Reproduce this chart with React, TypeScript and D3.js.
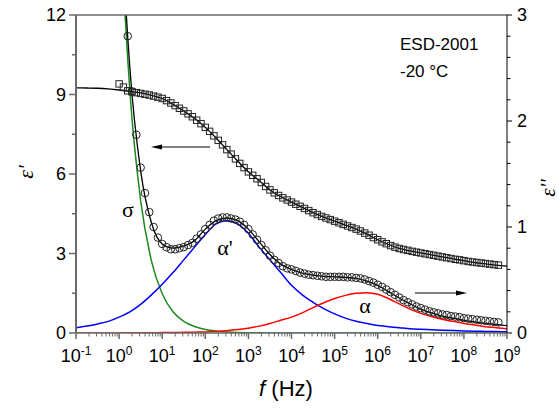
import React from 'react';
import * as d3 from 'd3';

// measured points: log10(f/Hz)
const dataExp = [
  0.0, 0.1, 0.2, 0.3, 0.4, 0.5, 0.6, 0.7, 0.8, 0.9,
  1.0, 1.1, 1.2, 1.3, 1.4, 1.5, 1.6, 1.7, 1.8, 1.9,
  2.0, 2.1, 2.2, 2.3, 2.4, 2.5, 2.6, 2.7, 2.8, 2.9,
  3.0, 3.1, 3.2, 3.3, 3.4, 3.5, 3.6, 3.7, 3.8, 3.9,
  4.0, 4.1, 4.2, 4.3, 4.4, 4.5, 4.6, 4.7, 4.8, 4.9,
  5.0, 5.1, 5.2, 5.3, 5.4, 5.5, 5.6, 5.7, 5.8, 5.9,
  6.0, 6.1, 6.2, 6.3, 6.4, 6.5, 6.6, 6.7, 6.8, 6.9,
  7.0, 7.1, 7.2, 7.3, 7.4, 7.5, 7.6, 7.7, 7.8, 7.9,
  8.0, 8.1, 8.2, 8.3, 8.4, 8.5, 8.6, 8.7, 8.8,
];

// eps' (squares, left axis)
const epsReal = [
  9.40, 9.28, 9.14, 9.10, 9.07, 9.04, 9.01, 8.98, 8.94, 8.90,
  8.85, 8.77, 8.68, 8.58, 8.48, 8.38, 8.27, 8.16, 8.03, 7.90,
  7.76, 7.61, 7.44, 7.27, 7.10, 6.92, 6.75, 6.57, 6.40, 6.24,
  6.08, 5.95, 5.82, 5.68, 5.53, 5.40, 5.29, 5.19, 5.10, 5.02,
  4.94, 4.86, 4.78, 4.70, 4.62, 4.54, 4.47, 4.40, 4.34, 4.28,
  4.22, 4.16, 4.10, 4.04, 3.98, 3.92, 3.85, 3.77, 3.69, 3.60,
  3.52, 3.44, 3.37, 3.30, 3.24, 3.19, 3.15, 3.12, 3.08, 3.05,
  3.02, 2.99, 2.96, 2.93, 2.90, 2.87, 2.84, 2.81, 2.78, 2.76,
  2.73, 2.70, 2.68, 2.66, 2.64, 2.62, 2.60, 2.58, 2.56,
];

// eps'' (circles, right axis)
const epsImag = [
  4.2, 3.4, 2.80, 2.28, 1.87, 1.56, 1.32, 1.14, 1.00, 0.90,
  0.84, 0.81, 0.79, 0.79, 0.80, 0.81, 0.83, 0.85, 0.89, 0.93,
  0.98, 1.02, 1.06, 1.08, 1.09, 1.09, 1.08, 1.07, 1.05, 1.02,
  0.98, 0.93, 0.88, 0.83, 0.78, 0.73, 0.69, 0.66, 0.63, 0.61,
  0.60, 0.585, 0.57, 0.56, 0.55, 0.545, 0.54, 0.535, 0.53, 0.53,
  0.53, 0.53, 0.53, 0.525, 0.525, 0.52, 0.515, 0.505, 0.49, 0.475,
  0.455, 0.435, 0.41, 0.385, 0.36, 0.335, 0.31, 0.29, 0.27, 0.25,
  0.235, 0.22, 0.205, 0.195, 0.185, 0.175, 0.17, 0.16, 0.155, 0.15,
  0.14, 0.135, 0.13, 0.125, 0.12, 0.115, 0.11, 0.105, 0.10,
];

// fitted curves: log10(f/Hz)
const fitExp = [
  -1, -0.75, -0.5, -0.25, 0, 0.25, 0.5, 0.75, 1, 1.25, 1.5, 1.75, 2, 2.25,
  2.5, 2.75, 3, 3.25, 3.5, 3.75, 4, 4.25, 4.5, 4.75, 5, 5.25, 5.5, 5.75,
  6, 6.25, 6.5, 6.75, 7, 7.25, 7.5, 7.75, 8, 8.25, 8.5, 8.75, 9,
];

const fitReal = [
  9.25, 9.245, 9.235, 9.21, 9.17, 9.12, 9.06, 8.97, 8.85, 8.63, 8.38, 8.10, 7.76, 7.36,
  6.92, 6.49, 6.08, 5.75, 5.40, 5.15, 4.94, 4.74, 4.54, 4.37, 4.22, 4.07, 3.92, 3.73,
  3.52, 3.34, 3.19, 3.10, 3.02, 2.95, 2.87, 2.80, 2.73, 2.66, 2.61, 2.56, 2.52,
];

const fitImag = [
  46.8, 25.6, 14.0, 7.7, 4.35, 2.50, 1.53, 1.04, 0.84, 0.80, 0.82, 0.87, 0.98, 1.06,
  1.085, 1.06, 0.98, 0.86, 0.74, 0.65, 0.60, 0.565, 0.545, 0.535, 0.53, 0.525, 0.515, 0.49,
  0.45, 0.39, 0.33, 0.275, 0.225, 0.19, 0.16, 0.14, 0.12, 0.105, 0.09, 0.08, 0.07,
];

const sigmaPart = [
  46.7, 25.5, 13.9, 7.6, 4.18, 2.28, 1.25, 0.68, 0.37, 0.20, 0.11, 0.061, 0.033, 0.018,
  0.010, 0.005, 0.003, 0.002, 0.001, 0.001, 0, 0, 0, 0, 0, 0, 0, 0,
  0, 0, 0, 0, 0, 0, 0, 0, 0, 0, 0, 0, 0,
];

const alphaPrimePart = [
  0.05, 0.065, 0.085, 0.11, 0.15, 0.20, 0.27, 0.36, 0.46, 0.57, 0.69, 0.81, 0.93, 1.03,
  1.06, 1.03, 0.94, 0.81, 0.69, 0.57, 0.45, 0.36, 0.29, 0.23, 0.18, 0.14, 0.11, 0.09,
  0.07, 0.06, 0.05, 0.04, 0.035, 0.031, 0.027, 0.023, 0.02, 0.017, 0.015, 0.013, 0.012,
];

const alphaPart = [
  0, 0, 0.001, 0.001, 0.001, 0.002, 0.002, 0.003, 0.004, 0.005, 0.006, 0.008, 0.01, 0.015,
  0.022, 0.032, 0.045, 0.065, 0.09, 0.12, 0.15, 0.19, 0.24, 0.285, 0.325, 0.355, 0.375, 0.38,
  0.365, 0.325, 0.275, 0.225, 0.185, 0.155, 0.13, 0.11, 0.09, 0.075, 0.06, 0.05, 0.04,
];

const decades = [-1, 0, 1, 2, 3, 4, 5, 6, 7, 8, 9];
const leftTicks = [0, 3, 6, 9, 12];
const leftMinor = [1.5, 4.5, 7.5, 10.5];
const rightTicks = [0, 1, 2, 3];
const rightMinor = [0.2, 0.4, 0.6, 0.8, 1.2, 1.4, 1.6, 1.8, 2.2, 2.4, 2.6, 2.8];

const X0 = 76, X1 = 507, Y0 = 15, Y1 = 333;
const x = d3.scaleLog().domain([1e-1, 1e9]).range([X0, X1]);
const yL = d3.scaleLinear().domain([0, 12]).range([Y1, Y0]);
const yR = d3.scaleLinear().domain([0, 3]).range([Y1, Y0]);

const sans = 'Arial, "Liberation Sans", sans-serif';
const serif = '"Liberation Serif", "Times New Roman", serif';

function lineFor(exps: number[], vals: number[], y: d3.ScaleLinear<number, number>) {
  const pts = exps.map((e, i) => [e, vals[i]] as [number, number]);
  return d3.line<[number, number]>()
    .x(d => x(Math.pow(10, d[0])))
    .y(d => y(d[1]))
    .curve(d3.curveMonotoneX)(pts) || '';
}

export default function App() {
  const minorX: number[] = [];
  decades.slice(0, -1).forEach(d => {
    for (let k = 2; k <= 9; k++) minorX.push(k * Math.pow(10, d));
  });

  const squares = dataExp.map((e, i) => ({ f: Math.pow(10, e), v: epsReal[i] }));
  const circles = dataExp
    .map((e, i) => ({ f: Math.pow(10, e), v: epsImag[i] }))
    .filter(d => d.v <= 3);

  const axisGray = '#6a6a6a';

  return (
    <>
      <style>{`body{margin:0}`}</style>
      <svg width={559} height={412} style={{ display: 'block', background: '#fff' }}>
        <defs>
          <clipPath id="plot">
            <rect x={X0} y={Y0} width={X1 - X0} height={Y1 - Y0} />
          </clipPath>
        </defs>

        <g clipPath="url(#plot)" fill="none">
          <path d={lineFor(fitExp, sigmaPart, yR)} stroke="#1a8a1a" strokeWidth={1.5} />
          <path d={lineFor(fitExp, alphaPrimePart, yR)} stroke="#0000ff" strokeWidth={1.5} />
          <path d={lineFor(fitExp, alphaPart, yR)} stroke="#ff0000" strokeWidth={1.5} />
          <path d={lineFor(fitExp, fitReal, yL)} stroke="#000" strokeWidth={1.3} />
          <path d={lineFor(fitExp, fitImag, yR)} stroke="#000" strokeWidth={1.3} />
          {squares.map((d, i) => (
            <rect key={'s' + i} x={x(d.f) - 3.2} y={yL(d.v) - 3.2} width={6.4} height={6.4}
              stroke="#222" strokeWidth={1} />
          ))}
          {circles.map((d, i) => (
            <circle key={'c' + i} cx={x(d.f)} cy={yR(d.v)} r={3.8} stroke="#222" strokeWidth={1} />
          ))}
        </g>

        {/* frame */}
        <line x1={X0} x2={X1} y1={Y0} y2={Y0} stroke={axisGray} strokeWidth={1.5} />
        <line x1={X0} x2={X0} y1={Y0} y2={Y1} stroke={axisGray} strokeWidth={2} />
        <line x1={X0} x2={X1} y1={Y1} y2={Y1} stroke={axisGray} strokeWidth={1.5} />
        <line x1={X1} x2={X1} y1={Y0} y2={Y1} stroke="#000" strokeWidth={1} />

        {/* left axis */}
        {leftTicks.map(t => (
          <g key={'l' + t}>
            <line x1={X0 - 7} x2={X0} y1={yL(t)} y2={yL(t)} stroke={axisGray} strokeWidth={1.5} />
            <text x={X0 - 10} y={yL(t)} dy="0.36em" textAnchor="end" fontFamily={sans} fontSize={18}>{t}</text>
          </g>
        ))}
        {leftMinor.map(t => (
          <line key={'lm' + t} x1={X0 - 4} x2={X0} y1={yL(t)} y2={yL(t)} stroke={axisGray} strokeWidth={1.5} />
        ))}

        {/* right axis */}
        {rightTicks.map(t => (
          <g key={'r' + t}>
            <line x1={X1} x2={X1 + 5} y1={yR(t)} y2={yR(t)} stroke="#000" strokeWidth={1} />
            <text x={X1 + 10} y={yR(t)} dy="0.36em" textAnchor="start" fontFamily={sans} fontSize={18}>{t}</text>
          </g>
        ))}
        {rightMinor.map(t => (
          <line key={'rm' + t} x1={X1} x2={X1 + 3.5} y1={yR(t)} y2={yR(t)} stroke="#000" strokeWidth={1} />
        ))}

        {/* bottom axis */}
        {minorX.map((v, i) => (
          <line key={'bm' + i} x1={x(v)} x2={x(v)} y1={Y1} y2={Y1 + 3.5} stroke={axisGray} strokeWidth={1} />
        ))}
        {decades.map(d => (
          <g key={'b' + d}>
            <line x1={x(Math.pow(10, d))} x2={x(Math.pow(10, d))} y1={Y1} y2={Y1 + 6} stroke={axisGray} strokeWidth={1.5} />
            <text x={x(Math.pow(10, d))} y={362} textAnchor="middle" fontFamily={sans} fontSize={18}>
              10<tspan dy={-7} fontSize={12}>{d}</tspan>
            </text>
          </g>
        ))}

        {/* axis titles */}
        <text x={286} y={396} textAnchor="middle" fontFamily={sans} fontSize={22}>
          <tspan fontStyle="italic">f</tspan> (Hz)
        </text>
        <text transform="translate(33,172) rotate(-90)" textAnchor="middle" fontFamily={serif} fontStyle="italic" fontSize={22}>ε'</text>
        <text transform="translate(555,188) rotate(-90)" textAnchor="middle" fontFamily={serif} fontStyle="italic" fontSize={21}>ε''</text>

        {/* annotations */}
        <text x={400} y={50} fontFamily={sans} fontSize={17}>ESD-2001</text>
        <text x={400} y={77} fontFamily={sans} fontSize={17}>-20 °C</text>

        <text x={128} y={217} textAnchor="middle" fontFamily={serif} fontSize={22}>σ</text>
        <text x={225} y={255} textAnchor="middle" fontFamily={serif} fontSize={22}>α'</text>
        <text x={365} y={313} textAnchor="middle" fontFamily={serif} fontSize={22}>α</text>

        {/* arrows */}
        <line x1={210} x2={160} y1={147} y2={147} stroke="#000" strokeWidth={1.2} />
        <path d="M151,147 L162,144.5 L162,149.5 Z" fill="#000" />
        <line x1={415} x2={458} y1={293} y2={293} stroke="#000" strokeWidth={1.2} />
        <path d="M467,293 L456,290.5 L456,295.5 Z" fill="#000" />
      </svg>
    </>
  );
}
